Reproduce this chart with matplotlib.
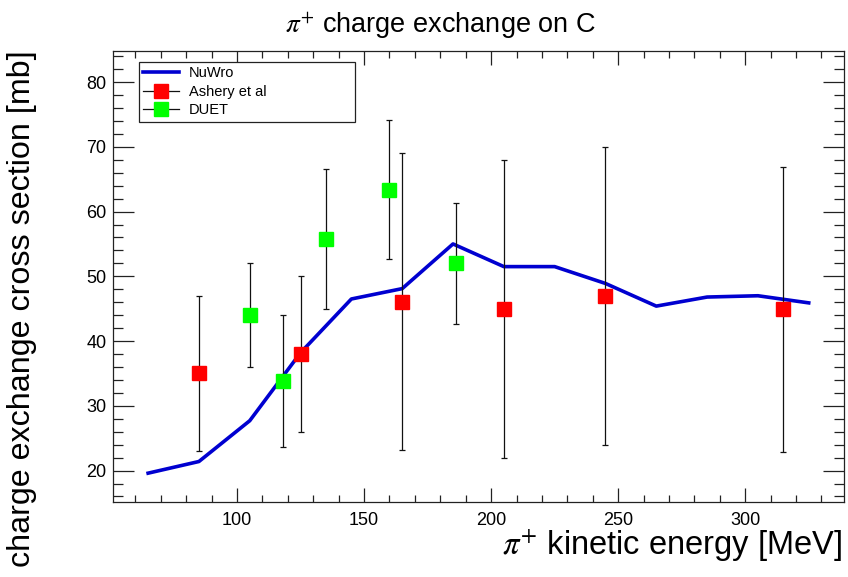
import matplotlib
matplotlib.use("Agg")
import matplotlib.pyplot as plt
from matplotlib.lines import Line2D
from matplotlib.ticker import MultipleLocator

plt.rcParams['font.family'] = ['Liberation Sans', 'DejaVu Sans']
plt.rcParams['mathtext.fontset'] = 'stix'

# NuWro prediction
nuwro_e = [65, 85, 105, 125, 145, 165, 185, 205, 225, 245, 265, 285, 305, 325]
nuwro_xs = [19.6, 21.4, 27.7, 38.2, 46.5, 48.1, 55.0, 51.5, 51.5, 48.9,
            45.4, 46.8, 47.0, 45.9]

# Ashery et al data
ashery_e = [85, 125, 165, 205, 245, 315]
ashery_xs = [35.0, 38.0, 46.1, 44.9, 47.0, 44.9]
ashery_err = [12.0, 12.0, 22.9, 23.0, 23.0, 22.0]

# DUET data
duet_e = [105, 118, 135, 160, 186]
duet_xs = [44.0, 33.8, 55.8, 63.4, 52.0]
duet_err = [8.0, 10.2, 10.8, 10.7, 9.4]

fig = plt.figure(figsize=(8.48, 5.77), dpi=100)
ax = fig.add_axes([113.3 / 848, 1 - 502.3 / 577, (844.3 - 113.3) / 848,
                   (502.3 - 51) / 577])

ax.plot(nuwro_e, nuwro_xs, color='#0000d0', lw=2.6, zorder=2)
ax.errorbar(ashery_e, ashery_xs, yerr=ashery_err, fmt='s', ms=10,
            mfc='#ff0000', mec='#ff0000', ecolor='#111111', elinewidth=0.9,
            capsize=2.5, capthick=0.9, zorder=3)
ax.errorbar(duet_e, duet_xs, yerr=duet_err, fmt='s', ms=10,
            mfc='#00ff00', mec='#00ff00', ecolor='#111111', elinewidth=0.9,
            capsize=2.5, capthick=0.9, zorder=3)

ax.set_xlim(51.3, 339)
ax.set_ylim(15.1, 84.8)
ax.xaxis.set_major_locator(MultipleLocator(50))
ax.xaxis.set_minor_locator(MultipleLocator(10))
ax.yaxis.set_major_locator(MultipleLocator(10))
ax.yaxis.set_minor_locator(MultipleLocator(2))
ax.tick_params(axis='both', which='both', direction='in', top=True,
               right=True, labelsize=13, width=0.9, colors='#222222',
               labelcolor='black')
ax.tick_params(axis='x', which='major', length=10, pad=7)
ax.tick_params(axis='x', which='minor', length=5)
ax.tick_params(axis='y', which='major', length=15, pad=5)
ax.tick_params(axis='y', which='minor', length=7.5)
for sp in ax.spines.values():
    sp.set_linewidth(0.9)
    sp.set_color('#222222')

handles = [
    Line2D([], [], color='#0000d0', lw=2.6),
    Line2D([], [], color='#111111', lw=0.9, marker='s', ms=10,
           mfc='#ff0000', mec='#ff0000'),
    Line2D([], [], color='#111111', lw=0.9, marker='s', ms=10,
           mfc='#00ff00', mec='#00ff00'),
]
leg = ax.legend(handles, ['NuWro', 'Ashery et al', 'DUET'],
                loc='upper left', mode='expand',
                bbox_to_anchor=(0.0345, 0.85, 0.2955, 0.1256),
                fontsize=10.5, fancybox=False, framealpha=1, handlelength=2.5,
                handletextpad=0.65, borderpad=0.3, labelspacing=0.3,
                borderaxespad=0)
leg.get_frame().set_edgecolor('#222222')
leg.get_frame().set_linewidth(0.9)

fig.text(440 / 848, 1 - 33 / 577, r'$\pi^{+}$ charge exchange on C',
         ha='center', va='baseline', fontsize=19.5)
fig.text(842 / 848, 1 - 546 / 577, r'$\pi^{+}$ kinetic energy [MeV]',
         ha='right', va='center', fontsize=23.5)
fig.text(22 / 848, 1 - 50 / 577, 'charge exchange cross section [mb]',
         ha='center', va='top', rotation=90, fontsize=23.2)

fig.savefig('out.png', dpi=100)
